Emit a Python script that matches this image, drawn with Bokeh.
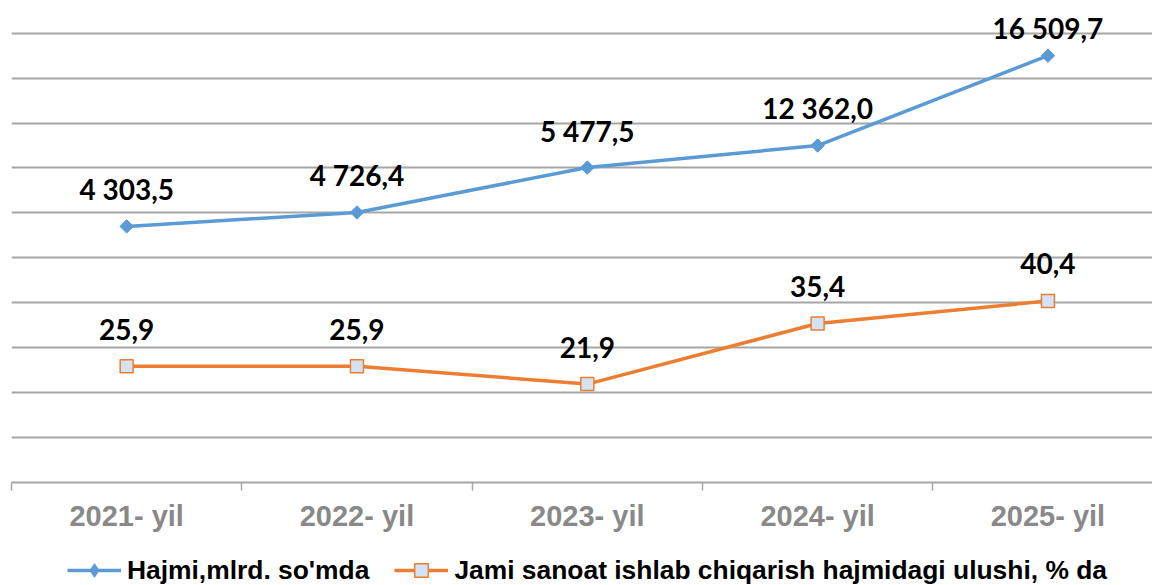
import math
from bokeh.plotting import figure
from bokeh.layouts import column
from bokeh.models import ColumnDataSource, Range1d, FixedTicker, Grid, Legend, LegendItem
from bokeh.core.properties import value
from bokeh.embed import file_html
from bokeh.resources import INLINE

# ---- data ----
years = ["2021- yil", "2022- yil", "2023- yil", "2024- yil", "2025- yil"]
hajmi_labels = ["4 303,5", "4 726,4", "5 477,5", "12 362,0", "16 509,7"]
hajmi_plot = [57.0, 60.1, 70.1, 75.0, 95.0]          # plotted height (hidden axis)
ulushi = [25.9, 25.9, 21.9, 35.4, 40.4]
ulushi_labels = ["25,9", "25,9", "21,9", "35,4", "40,4"]
grid_values = [10, 20, 30, 40, 50, 60, 70, 80, 90, 100]

series1_name = "Hajmi,mlrd. so'mda"
series2_name = "Jami sanoat ishlab chiqarish hajmidagi ulushi, % da"

xs = list(range(len(years)))

# ---- styles ----
BLUE = "#5B9BD5"
ORANGE = "#ED7D31"
GRID = "#a6a6a6"
SQ_FILL = "#D3E3F4"
hajmi_offsets = [-37, -37, -37, -38, -28]
ulushi_offsets = [-37, -37, -37, -37, -37]

# ---- main chart ----
p = figure(width=1152, height=545, output_backend="svg", toolbar_location=None,
           x_range=Range1d(-0.5, 4.454), y_range=Range1d(0, 105.5),
           y_axis_location=None, min_border_left=11, min_border_right=0,
           min_border_top=8, min_border_bottom=63)
p.outline_line_color = None
p.background_fill_color = "white"
p.border_fill_color = "white"
p.xgrid.grid_line_color = None

grid = Grid(dimension=1, ticker=FixedTicker(ticks=grid_values),
            grid_line_color=GRID, grid_line_width=1.8)
p.add_layout(grid)

ax = p.xaxis[0]
ax.ticker = FixedTicker(ticks=xs, minor_ticks=[x - 0.5 for x in xs] + [xs[-1] + 0.5])
ax.major_label_overrides = {x: y for x, y in zip(xs, years)}
ax.axis_line_color = GRID
ax.axis_line_width = 1.8
ax.major_tick_line_color = None
ax.major_tick_out = 0
ax.major_tick_in = 0
ax.minor_tick_line_color = GRID
ax.minor_tick_line_width = 1.5
ax.minor_tick_out = 8
ax.minor_tick_in = 0
ax.major_label_text_font = "Liberation Sans"
ax.major_label_text_font_style = "bold"
ax.major_label_text_font_size = "29px"
ax.major_label_text_color = "#898989"
ax.major_label_standoff = 9

p.line(xs, hajmi_plot, line_color=BLUE, line_width=3.5)
p.scatter(xs, hajmi_plot, marker="square", size=9.5, angle=math.pi / 4,
          fill_color=BLUE, line_color=BLUE)
p.line(xs, ulushi, line_color=ORANGE, line_width=3.5)
p.scatter(xs, ulushi, marker="square", size=13, fill_color=SQ_FILL,
          line_color=ORANGE, line_width=1.5)

src1 = ColumnDataSource(dict(x=xs, y=hajmi_plot, t=hajmi_labels, off=hajmi_offsets))
src2 = ColumnDataSource(dict(x=xs, y=ulushi, t=ulushi_labels, off=ulushi_offsets))
for src in (src1, src2):
    p.text("x", "y", text="t", source=src, y_offset="off", text_align="center",
           text_baseline="alphabetic", text_font=value("Lato"), text_font_style="bold",
           text_font_size="28px", text_color="black")

# ---- legend strip (series renderers kept hidden; they only supply legend glyphs) ----
lg = figure(width=1152, height=40, output_backend="svg", toolbar_location=None,
            x_axis_location=None, y_axis_location=None,
            x_range=Range1d(0, 1), y_range=Range1d(0, 1),
            min_border_left=0, min_border_right=0, min_border_top=0, min_border_bottom=0)
lg.outline_line_color = None
lg.xgrid.visible = False
lg.ygrid.visible = False
l1 = lg.line(xs, hajmi_plot, line_color=BLUE, line_width=3.5, visible=False)
k1 = lg.scatter(xs, hajmi_plot, marker="diamond", fill_color=BLUE, line_color=BLUE,
                visible=False)
l2 = lg.line(xs, ulushi, line_color=ORANGE, line_width=3.5, visible=False)
k2 = lg.scatter(xs, ulushi, marker="square", fill_color=SQ_FILL, line_color=ORANGE,
                line_width=1.5, visible=False)

legend = Legend(items=[LegendItem(label=series1_name, renderers=[l1, k1]),
                       LegendItem(label=series2_name, renderers=[l2, k2])],
                orientation="horizontal", location=(56, -2),
                glyph_width=54, glyph_height=34, label_standoff=6, spacing=25,
                padding=0, margin=0, border_line_color=None, background_fill_alpha=0,
                label_text_font="Liberation Sans", label_text_font_style="bold",
                label_text_font_size="26.4px", label_text_color="black")
lg.add_layout(legend, "center")

page = column(p, lg, spacing=0)
open("out.html", "w").write(file_html(page, INLINE))
